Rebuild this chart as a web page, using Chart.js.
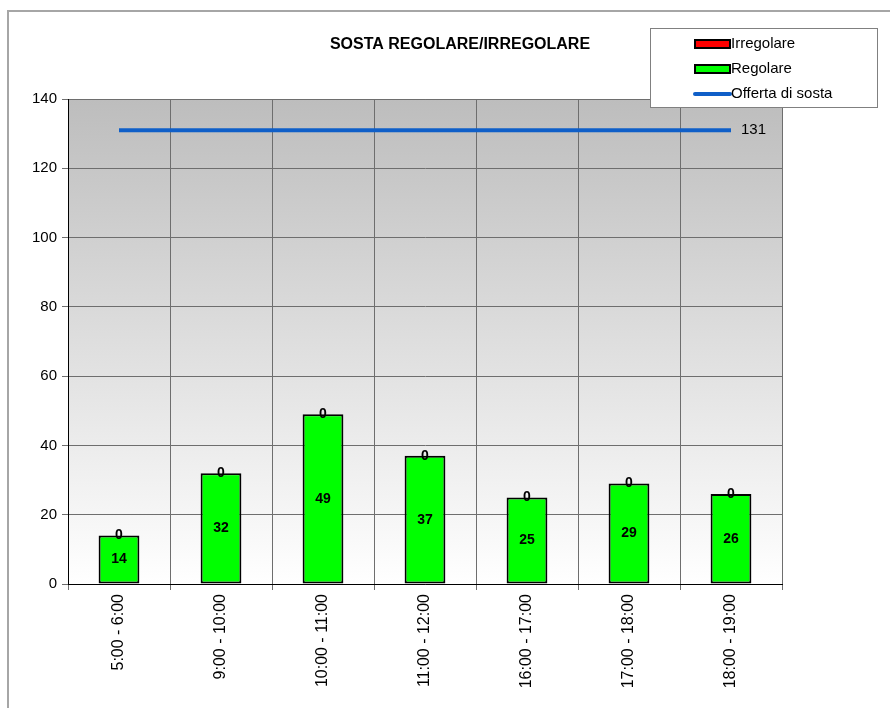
<!DOCTYPE html>
<html>
<head>
<meta charset="utf-8">
<script src="https://cdn.jsdelivr.net/npm/chart.js@4/dist/chart.umd.min.js"></script>
<style>
  html, body { margin: 0; padding: 0; background: #fff; }
  #grafico-sosta { display: block; }
</style>
</head>
<body>
<canvas id="grafico-sosta" width="890" height="708"></canvas>
<script>
// fasce orarie e conteggi
const fasce = ['5:00 - 6:00', '9:00 - 10:00', '10:00 - 11:00', '11:00 - 12:00', '16:00 - 17:00', '17:00 - 18:00', '18:00 - 19:00'];
const regolare = [14, 32, 49, 37, 25, 29, 26];
const irregolare = [0, 0, 0, 0, 0, 0, 0];
const offerta = [131, 131, 131, 131, 131, 131, 131];
const yTicks = [0, 20, 40, 60, 80, 100, 120, 140];

const FONT = 'Arial, "Liberation Sans", sans-serif';

// sfondo sfumato dell'area del grafico + cornice esterna
const sfondo = {
    id: 'sfondo',
    beforeDraw(chart) {
        const ctx = chart.ctx;
        const a = chart.chartArea;
        ctx.save();
        ctx.strokeStyle = '#a6a6a6';
        ctx.lineWidth = 2;
        ctx.beginPath();
        ctx.moveTo(8, 708);
        ctx.lineTo(8, 11);
        ctx.lineTo(890, 11);
        ctx.stroke();
        let g = ctx.createLinearGradient(0, a.top, 0, a.bottom);
        g.addColorStop(0, '#bdbdbd');
        g.addColorStop(1, '#ffffff');
        ctx.fillStyle = g;
        ctx.fillRect(a.left, a.top, a.right - a.left, a.bottom - a.top);
        ctx.strokeStyle = '#808080';
        ctx.lineWidth = 1;
        ctx.strokeRect(a.left + 0.5, a.top + 0.5, a.right - a.left, a.bottom - a.top);
        ctx.restore();
    }
};

// titolo, legenda ed etichette dei valori
const etichette = {
    id: 'etichette',
    afterDraw(chart) {
        const ctx = chart.ctx;
        ctx.save();
        ctx.fillStyle = '#000';
        ctx.textAlign = 'center';
        ctx.textBaseline = 'middle';
        ctx.font = 'bold 16px ' + FONT;
        ctx.fillText('SOSTA REGOLARE/IRREGOLARE', 460, 45);

        // valori dentro le barre
        const mReg = chart.getDatasetMeta(0);
        mReg.data.forEach((bar, i) => {
            ctx.font = 'bold 14px ' + FONT;
            ctx.fillText(String(regolare[i]), bar.x, (bar.y + bar.base) / 2);
        });
        const mIrr = chart.getDatasetMeta(1);
        mIrr.data.forEach((bar, i) => {
            ctx.font = 'bold 14px ' + FONT;
            ctx.fillText(String(irregolare[i]), bar.x, bar.y);
        });
        // valore finale della linea
        const mOff = chart.getDatasetMeta(2);
        const ultimo = mOff.data[mOff.data.length - 1];
        ctx.font = '15px ' + FONT;
        ctx.textAlign = 'left';
        ctx.fillText(String(offerta[offerta.length - 1]), ultimo.x + 10, ultimo.y);

        // legenda
        ctx.fillStyle = '#fff';
        ctx.fillRect(650, 28, 227, 79);
        ctx.strokeStyle = '#808080';
        ctx.lineWidth = 1;
        ctx.strokeRect(650.5, 28.5, 227, 79);
        const voci = chart.data.datasets;
        const ordine = [1, 0, 2];
        ordine.forEach((k, j) => {
            const ds = voci[k];
            const y = 44 + j * 25;
            if (ds.type === 'line') {
                ctx.strokeStyle = ds.borderColor;
                ctx.lineWidth = 4;
                ctx.lineCap = 'round';
                ctx.beginPath();
                ctx.moveTo(695, y);
                ctx.lineTo(730, y);
                ctx.stroke();
            } else {
                ctx.fillStyle = ds.backgroundColor;
                ctx.fillRect(695, y - 4, 35, 8);
                ctx.strokeStyle = '#000';
                ctx.lineWidth = 2;
                ctx.strokeRect(695, y - 4, 35, 8);
            }
            ctx.fillStyle = '#000';
            ctx.font = '15px ' + FONT;
            ctx.textAlign = 'left';
            ctx.fillText(ds.label, 731, y);
        });
        ctx.restore();
    }
};

const canvas_sosta = document.getElementById('grafico-sosta');
const ctx = canvas_sosta.getContext('2d');

const data = {
    labels: fasce,
    datasets: [
        {
            label: 'Regolare',
            data: regolare,
            backgroundColor: '#00ff00',
            borderColor: '#000',
            borderWidth: 2,
            borderSkipped: false,
            barPercentage: 0.4,
            categoryPercentage: 1,
            order: 2
        },
        {
            label: 'Irregolare',
            data: irregolare,
            backgroundColor: '#ff0000',
            borderColor: '#000',
            borderWidth: 0,
            barPercentage: 0.4,
            categoryPercentage: 1,
            order: 2
        },
        {
            type: 'line',
            label: 'Offerta di sosta',
            data: offerta,
            borderColor: '#0f5fc8',
            borderWidth: 4,
            pointRadius: 0,
            fill: false,
            order: 1
        }
    ]
};

const grafico_sosta = new Chart(ctx, {
    type: 'bar',
    data: data,
    options: {
        responsive: false,
        animation: false,
        layout: { padding: { left: 0, right: 108, top: 99, bottom: 0 } },
        plugins: {
            legend: { display: false },
            title: { display: false },
            tooltip: { enabled: false }
        },
        scales: {
            x: {
                stacked: true,
                offset: true,
                grid: {
                    offset: true,
                    color: '#6e6e6e',
                    tickLength: 6,
                    lineWidth: 1
                },
                border: { color: '#000', width: 1 },
                ticks: {
                    minRotation: 90,
                    maxRotation: 90,
                    padding: 4,
                    color: '#000',
                    font: { family: FONT, size: 16 }
                },
                afterFit(scale) { scale.height = 124; }
            },
            y: {
                stacked: true,
                min: 0,
                max: 140,
                afterBuildTicks(scale) { scale.ticks = yTicks.map(v => ({ value: v })); },
                grid: {
                    color: '#6e6e6e',
                    tickLength: 6,
                    lineWidth: 1
                },
                border: { color: '#000', width: 1 },
                ticks: {
                    padding: 5,
                    color: '#000',
                    font: { family: FONT, size: 15 }
                },
                afterFit(scale) { scale.width = 68; }
            }
        }
    },
    plugins: [sfondo, etichette]
});
</script>
</body>
</html>
